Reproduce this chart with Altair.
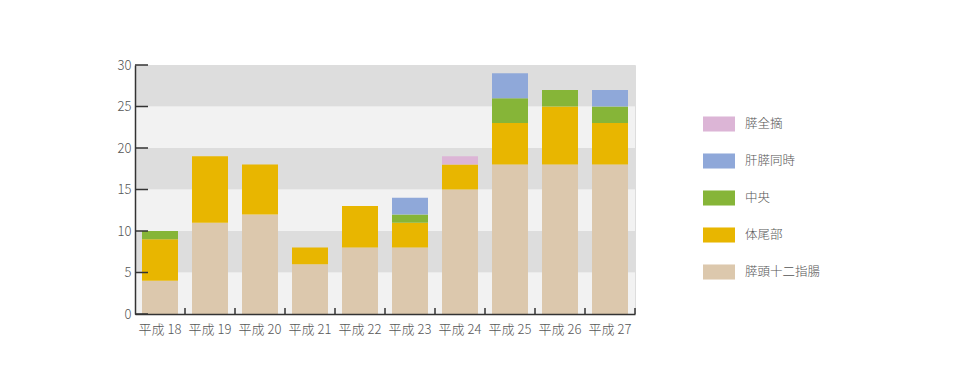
import altair as alt
import pandas as pd

years = ["平成 18", "平成 19", "平成 20", "平成 21", "平成 22",
         "平成 23", "平成 24", "平成 25", "平成 26", "平成 27"]
series = ["膵頭十二指腸", "体尾部", "中央", "肝膵同時", "膵全摘"]
colors = ["#dcc8ad", "#e8b600", "#86b538", "#8fa8d9", "#dcb5d6"]
v_head = [4, 11, 12, 6, 8, 8, 15, 18, 18, 18]
v_tail = [5, 8, 6, 2, 5, 3, 3, 5, 7, 5]
v_center = [1, 0, 0, 0, 0, 1, 0, 3, 2, 2]
v_liver = [0, 0, 0, 0, 0, 2, 0, 3, 0, 2]
v_total = [0, 0, 0, 0, 0, 0, 1, 0, 0, 0]
y_ticks = [0, 5, 10, 15, 20, 25, 30]
band_lo = [0, 5, 10, 15, 20, 25]
band_hi = [5, 10, 15, 20, 25, 30]
band_shade = ["light", "dark", "light", "dark", "light", "dark"]

W, H = 500, 249
TICK = 6
FONT = "Noto Sans CJK JP"

rows = []
for si, (name, vals) in enumerate(zip(series, [v_head, v_tail, v_center, v_liver, v_total])):
    for y, v in zip(years, vals):
        if v > 0:
            rows.append({"year": y, "type": name, "count": v, "ord": si})
df = pd.DataFrame(rows)
df_bands = pd.DataFrame({"lo": band_lo, "hi": band_hi, "shade": band_shade})
df_ticks = pd.DataFrame({"v": y_ticks})
df_years = pd.DataFrame({"year": years})

yscale = alt.Scale(domain=[0, 30], nice=False)
xscale = alt.Scale(paddingInner=0.28, paddingOuter=0.14)

bands = alt.Chart(df_bands).mark_rect().encode(
    x=alt.value(0), x2=alt.value(W),
    y=alt.Y("lo:Q", scale=yscale), y2="hi:Q",
    fill=alt.Fill("shade:N", scale=alt.Scale(domain=["light", "dark"],
                                             range=["#f2f2f2", "#dddddd"]), legend=None),
)

bars = alt.Chart(df).mark_bar().encode(
    x=alt.X("year:N", sort=years, scale=xscale,
            axis=alt.Axis(title=None, labelAngle=0, ticks=False, domainColor="#333333",
                          domainWidth=1.5, labelColor="#555555", labelFontSize=13,
                          labelFontWeight=300,
                          labelPadding=9, labelFont=FONT, zindex=1, grid=False)),
    y=alt.Y("count:Q", stack="zero", scale=yscale,
            axis=alt.Axis(title=None, values=y_ticks, ticks=False, grid=False,
                          domainColor="#333333", domainWidth=1.5, labelColor="#555555",
                          labelFontSize=13, labelFontWeight=300, labelPadding=4,
                          labelFont=FONT, zindex=1)),
    color=alt.Color("type:N",
                    scale=alt.Scale(domain=series[::-1], range=colors[::-1]),
                    legend=alt.Legend(title=None, orient="none", legendX=568, legendY=43,
                                      symbolType="M-1,-0.47L1,-0.47L1,0.47L-1,0.47Z",
                                      symbolSize=1024, symbolStrokeWidth=0,
                                      symbolOpacity=1, labelOffset=10,
                                      labelFontSize=12.5, labelColor="#555555",
                                      labelFontWeight=300,
                                      labelFont=FONT, rowPadding=13)),
    order=alt.Order("ord:Q"),
)

xticks = alt.Chart(df_years).mark_rule(color="#333333", strokeWidth=1.5).encode(
    x=alt.X("year:N", sort=years, bandPosition=1,
            scale=alt.Scale(paddingInner=0, paddingOuter=0), axis=None),
    y=alt.value(H - TICK), y2=alt.value(H),
)

yticks = alt.Chart(df_ticks).mark_rule(color="#333333", strokeWidth=1.5).encode(
    x=alt.value(0), x2=alt.value(13),
    y=alt.Y("v:Q", scale=yscale),
)

chart = alt.layer(bands, bars, xticks, yticks).resolve_scale(
    fill="independent", color="independent", x="independent"
).properties(
    width=W, height=H,
    autosize=alt.AutoSizeParams(type="none"),
    padding={"left": 127, "top": 57, "right": 319, "bottom": 62},
    background="#ffffff",
).configure_view(stroke=None).configure(font=FONT)

chart.save("out.html", embed_options={"renderer": "svg", "actions": False})
